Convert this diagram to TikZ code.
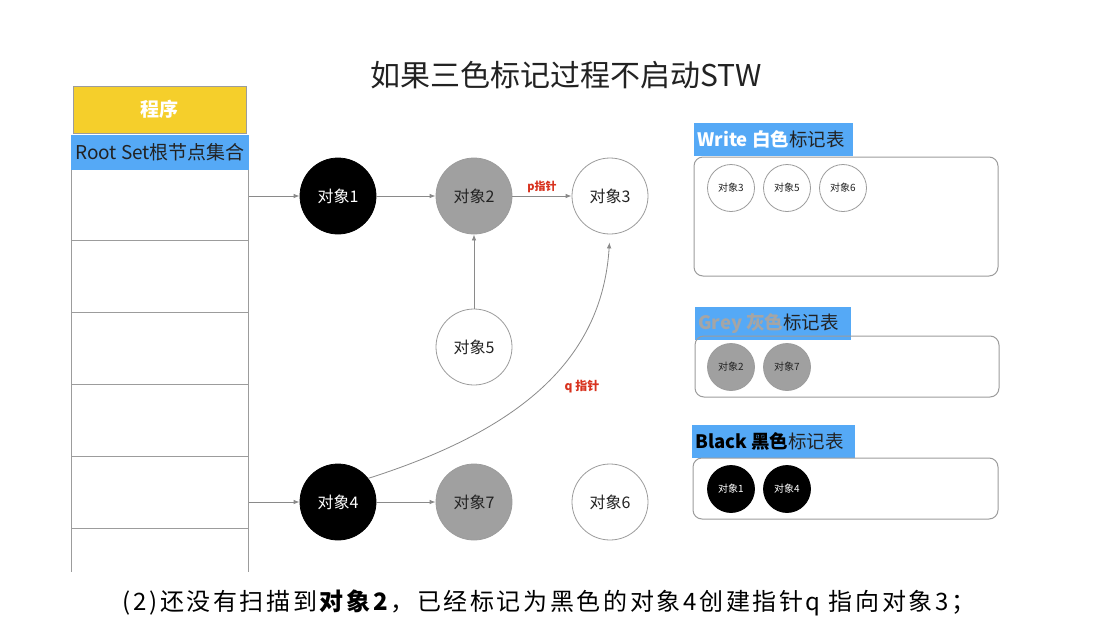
\documentclass[tikz,border=0pt]{standalone}
\usepackage{fontspec}
\setmainfont{Noto Sans CJK SC}
\usetikzlibrary{arrows.meta}
\definecolor{ptyellow}{HTML}{F5CF2B}
\definecolor{ptblue}{HTML}{55A9F6}
\definecolor{ptgrey}{HTML}{A0A0A0}
\definecolor{ptline}{HTML}{9C9C9C}
\definecolor{ptarrow}{HTML}{8A8A8A}
\definecolor{ptred}{HTML}{D8321E}
\definecolor{pttext}{HTML}{222222}
\definecolor{pthdrgrey}{HTML}{A5A5A5}
\begin{document}
\begin{tikzpicture}[x=1pt,y=-1pt,
  obj/.style={circle, draw=ptline, line width=0.8pt, minimum size=76pt, inner sep=0pt, font=\fontsize{16}{16}\selectfont},
  smallobj/.style={circle, draw=ptline, line width=0.8pt, minimum size=47pt, inner sep=0pt, font=\fontsize{10}{10}\selectfont},
  wht/.style={fill=white, text=pttext},
  gry/.style={fill=ptgrey, text=pttext},
  blk/.style={fill=black, draw=black, text=white},
  arr/.style={draw=ptarrow, line width=0.8pt, -{Latex[length=6pt,width=4.5pt]}},
  panel/.style={draw=ptline, rounded corners=9pt, line width=1pt},
  header/.style={fill=ptblue, inner xsep=3pt, inner ysep=0pt, anchor=north west, minimum height=33pt, font=\fontsize{18.5}{18.5}\selectfont},
  tbl/.style={draw=ptline, line width=1pt},
  lbl/.style={text=ptred, font=\bfseries\fontsize{11}{11}\selectfont},
]
\useasboundingbox[fill=white] (0,0) rectangle (1098,643);

% title
\node[text=pttext, font=\fontsize{30}{30}\selectfont] (title) at (566,75) {如果三色标记过程不启动STW};

% program / root set
\node[fill=ptyellow, draw=ptline, line width=0.8pt, minimum width=173pt, minimum height=47pt, inner sep=0pt, text=white, font=\bfseries\fontsize{19}{19}\selectfont] (prog) at (159.5,109.5) {程序};
\node[fill=ptblue, minimum width=178pt, minimum height=35pt, inner sep=0pt, text=pttext, font=\fontsize{19}{19}\selectfont] (root) at (160,152.5) {Root Set根节点集合};
\draw[tbl] (71,170) -- (71,572);
\draw[tbl] (248,170) -- (248,572);
\foreach \yy in {240,312,384,456,528} \draw[tbl] (71,\yy) -- (248,\yy);
\coordinate (r1) at (249,196);
\coordinate (r2) at (249,502);

% objects
\node[obj, blk] (o1) at (338,196) {对象1};
\node[obj, gry] (o2) at (474,196) {对象2};
\node[obj, wht] (o3) at (610,196) {对象3};
\node[obj, wht] (o5) at (474,347) {对象5};
\node[obj, blk] (o4) at (338,502) {对象4};
\node[obj, gry] (o7) at (474,502) {对象7};
\node[obj, wht] (o6) at (610,502) {对象6};

% connectors
\draw[arr] (r1) -- (o1);
\draw[arr] (o1) -- (o2);
\draw[arr] (o2) -- node[lbl, above, yshift=-1pt] (plbl) {p指针} (o3);
\draw[arr] (o5) -- (o2);
\draw[arr] (r2) -- (o4);
\draw[arr] (o4) -- (o7);
\draw[arr, shorten >=8pt] (o4.38) .. controls (520,430) and (602,360) .. (o3.south);
\node[lbl, font=\bfseries\fontsize{12}{12}\selectfont] (qlbl) at (582,387) {q 指针};

% White table
\node[header] (hw) at (694,123) {\makebox[153pt][l]{\textbf{\color{white}Write 白色}\color{pttext}标记表}};
\draw[panel] (694,157) rectangle (998,276);
\node[smallobj, wht] (w3) at (731,188) {对象3};
\node[smallobj, wht] (w5) at (787,188) {对象5};
\node[smallobj, wht] (w6) at (843,188) {对象6};

% Grey table
\node[header] (hg) at (695,307) {\makebox[150pt][l]{\textbf{\color{pthdrgrey}Grey 灰色}\color{pttext}标记表}};
\draw[panel] (695,336) rectangle (999,397);
\node[smallobj, gry] (g2) at (731,367) {对象2};
\node[smallobj, gry] (g7) at (787,367) {对象7};

% Black table
\node[header] (hb) at (692,425) {\makebox[157pt][l]{\textbf{\color{black}Black 黑色}\color{pttext}标记表}};
\draw[panel] (693,458) rectangle (998,519);
\node[smallobj, blk] (b1) at (731,489) {对象1};
\node[smallobj, blk] (b4) at (787,489) {对象4};

% caption
\node[text=black, font=\fontsize{24}{24}\selectfont\addfontfeature{LetterSpace=11}] (cap) at (549,603) {(2)还没有扫描到\textbf{对象2}，已经标记为黑色的对象4创建指针q 指向对象3；};
\end{tikzpicture}
\end{document}
